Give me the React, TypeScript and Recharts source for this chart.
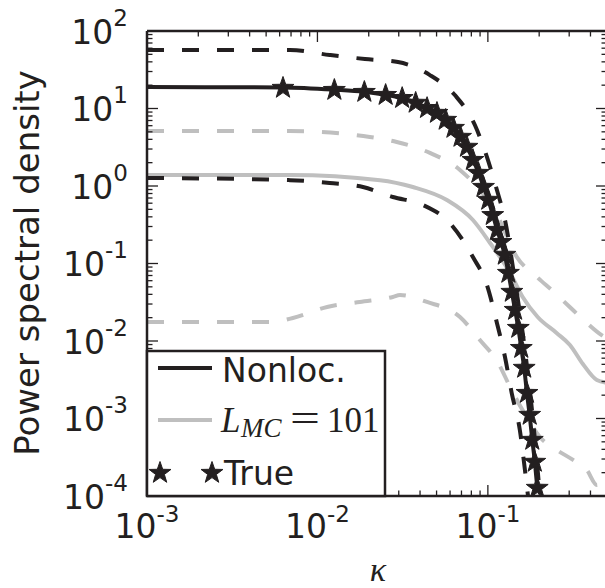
import { LineChart, Line, XAxis, YAxis } from "recharts";

const INK = "#231f20";
const GREY = "#bfbfbf";
const SANS = "'DejaVu Sans', sans-serif";
const SERIF = "'Liberation Serif', 'DejaVu Serif', serif";

// axis ticks
const xMajorTicks = [0.001, 0.01, 0.1];
const xTickLabels = ["-3", "-2", "-1"];
const xMinorTicks = [
  0.002, 0.003, 0.004, 0.005, 0.006, 0.007, 0.008, 0.009,
  0.02, 0.03, 0.04, 0.05, 0.06, 0.07, 0.08, 0.09,
  0.2, 0.3, 0.4,
];
const yMajorTicks = [1e-4, 1e-3, 1e-2, 1e-1, 1, 10, 100];
const yTickLabels = ["-4", "-3", "-2", "-1", "0", "1", "2"];
const yDecades = [1e-4, 1e-3, 1e-2, 1e-1, 1, 10];
const yMults = [2, 3, 4, 5, 6, 7, 8, 9];
const yMinorTicks = yDecades.flatMap((d) => yMults.map((m) => m * d));

// "True" spectrum (stars)
const kTrue = [
  0.00628, 0.01257, 0.01885, 0.02513, 0.03142, 0.0377, 0.04398, 0.05027,
  0.05655, 0.06283, 0.06912, 0.0754, 0.08168, 0.08796, 0.09425, 0.10053,
  0.10681, 0.1131, 0.11938, 0.12566, 0.13195, 0.13823, 0.14451, 0.1508,
  0.15708, 0.16336, 0.16965, 0.17593, 0.18221, 0.1885, 0.19478,
];
const psdTrue = [
  18.4, 17.3, 16.3, 14.9, 13.6, 11.8, 10.1, 8.74, 7.11, 5.6, 4.29, 3.19,
  2.16, 1.47, 0.97, 0.66, 0.42, 0.27, 0.189, 0.129, 0.0754, 0.0429, 0.0251,
  0.0147, 0.0081, 0.00449, 0.00213, 0.00111, 0.000528, 0.000275, 0.000127,
];

// Nonloc. (black solid)
const kNonloc = [0.001, ...kTrue];
const psdNonloc = [
  18.9, 18.7, 17.5, 16.4, 15.0, 13.6, 11.9, 10.2, 8.8, 7.2, 5.7, 4.35, 3.2,
  2.2, 1.5, 0.99, 0.66, 0.43, 0.275, 0.19, 0.13, 0.076, 0.043, 0.025, 0.0147,
  0.0081, 0.0045, 0.0021, 0.0011, 0.00053, 0.00028, 0.00013,
];

// Nonloc. bounds (black dashed)
const kNonlocHi = [0.001, 0.0069, 0.0118, 0.019, 0.0297, 0.0457, 0.064, 0.0839, 0.0987, 0.113, 0.126, 0.144, 0.165, 0.184, 0.202];
const psdNonlocHi = [56.9, 56.9, 49.0, 43.5, 39.8, 27.0, 14.9, 6.12, 2.37, 0.887, 0.364, 0.0612, 0.00766, 0.000957, 0.0001];
const kNonlocLo = [0.001, 0.0069, 0.0118, 0.0185, 0.0277, 0.0416, 0.0598, 0.0817, 0.0987, 0.113, 0.126, 0.138, 0.154, 0.165, 0.172];
const psdNonlocLo = [1.27, 1.19, 1.09, 0.971, 0.721, 0.569, 0.333, 0.121, 0.0528, 0.0171, 0.00622, 0.00213, 0.000711, 0.000216, 0.0001];

// L_MC = 101 (grey solid) and bounds (grey dashed)
const kMC = [0.001, 0.0069, 0.0233, 0.0363, 0.0575, 0.0817, 0.103, 0.135, 0.16, 0.196, 0.253, 0.303, 0.361, 0.436, 0.5];
const psdMC = [1.39, 1.39, 1.19, 0.97, 0.659, 0.364, 0.184, 0.0754, 0.037, 0.0204, 0.0127, 0.0089, 0.00505, 0.00314, 0.0029];
const kMCHi = [0.001, 0.0069, 0.0203, 0.0292, 0.0457, 0.0686, 0.113, 0.148, 0.194, 0.244, 0.298, 0.375, 0.465, 0.5];
const psdMCHi = [5.13, 5.13, 4.29, 3.7, 2.67, 1.61, 0.423, 0.121, 0.067, 0.0429, 0.0283, 0.0176, 0.0119, 0.0108];
const kMCLo = [0.001, 0.00526, 0.00718, 0.0114, 0.0177, 0.0277, 0.0305, 0.0439, 0.0686, 0.0898, 0.115, 0.135, 0.169, 0.202, 0.254, 0.316, 0.381, 0.436, 0.5];
const psdMCLo = [0.0176, 0.0176, 0.0198, 0.0275, 0.0319, 0.037, 0.0392, 0.0319, 0.0204, 0.0103, 0.0052, 0.00255, 0.00104, 0.000577, 0.000392, 0.000292, 0.000216, 0.000139, 0.000187];

const pts = (ks: number[], vs: number[]) => ks.map((k, i) => ({ k, v: vs[i] }));

function starPath(cx: number, cy: number, R = 11.5, r = 4.6) {
  let d = "";
  for (let i = 0; i < 10; i++) {
    const rad = i % 2 === 0 ? R : r;
    const a = -Math.PI / 2 + (i * Math.PI) / 5;
    d += (i === 0 ? "M" : "L") + (cx + rad * Math.cos(a)).toFixed(2) + "," + (cy + rad * Math.sin(a)).toFixed(2);
  }
  return d + "Z";
}

function StarDot(p: any) {
  if (p.cx == null || p.cy == null) return <g key={p.index} />;
  return <path key={p.index} d={starPath(p.cx, p.cy)} fill={INK} stroke={INK} strokeWidth={1} />;
}

function LeftTick({ x, y, payload }: any) {
  const i = yMajorTicks.indexOf(payload.value);
  const len = i >= 0 ? 11 : 5.5;
  return (
    <g>
      <line x1={x} x2={x + len} y1={y} y2={y} stroke={INK} strokeWidth={1.3} />
      {i >= 0 && (
        <text x={x - 19} y={y + 12.5} textAnchor="end" fontFamily={SANS} fontSize={33} fill={INK}>
          10<tspan dy={-18} fontSize={23}>{yTickLabels[i]}</tspan>
        </text>
      )}
    </g>
  );
}

function RightTick({ x, y, payload }: any) {
  const len = yMajorTicks.includes(payload.value) ? 11 : 5.5;
  return <line x1={x} x2={x - len} y1={y} y2={y} stroke={INK} strokeWidth={1.3} />;
}

function BottomTick({ x, y, payload }: any) {
  const i = xMajorTicks.indexOf(payload.value);
  const len = i >= 0 ? 11 : 5.5;
  return (
    <g>
      <line x1={x} x2={x} y1={y} y2={y - len} stroke={INK} strokeWidth={1.3} />
      {i >= 0 && (
        <text x={x} y={y + 42} textAnchor="middle" fontFamily={SANS} fontSize={33} fill={INK}>
          10<tspan dy={-16} fontSize={23}>{xTickLabels[i]}</tspan>
        </text>
      )}
    </g>
  );
}

function TopTick({ x, y, payload }: any) {
  const len = xMajorTicks.includes(payload.value) ? 11 : 5.5;
  return <line x1={x} x2={x} y1={y} y2={y + len} stroke={INK} strokeWidth={1.3} />;
}

const spine = { stroke: INK, strokeWidth: 2.5 };
const xTicks = [...xMajorTicks, ...xMinorTicks];
const yTicks = [...yMajorTicks, ...yMinorTicks];

export default function App() {
  return (
    <div style={{ position: "absolute", left: 0, top: 0, width: 605, height: 588, overflow: "hidden", background: "#fff" }}>
      <LineChart width={615} height={588} margin={{ top: 30, right: 7, bottom: 91, left: 146 }}>
        <XAxis xAxisId="b" dataKey="k" type="number" scale="log" domain={[0.001, 0.5]} allowDataOverflow
          ticks={xTicks} interval={0} height={1} tickSize={0} tickMargin={0} tickLine={false}
          axisLine={spine} tick={<BottomTick />} />
        <XAxis xAxisId="t" orientation="top" dataKey="k" type="number" scale="log" domain={[0.001, 0.5]} allowDataOverflow
          ticks={xTicks} interval={0} height={1} tickSize={0} tickMargin={0} tickLine={false}
          axisLine={spine} tick={<TopTick />} />
        <YAxis yAxisId="l" type="number" scale="log" domain={[1e-4, 100]} allowDataOverflow
          ticks={yTicks} interval={0} width={1} tickSize={0} tickMargin={0} tickLine={false}
          axisLine={spine} tick={<LeftTick />} />
        <YAxis yAxisId="r" orientation="right" type="number" scale="log" domain={[1e-4, 100]} allowDataOverflow
          ticks={yTicks} interval={0} width={1} tickSize={0} tickMargin={0} tickLine={false}
          axisLine={spine} tick={<RightTick />} />

        <Line xAxisId="b" yAxisId="l" data={pts(kMCLo, psdMCLo)} dataKey="v" type="monotone"
          stroke={GREY} strokeWidth={4} strokeDasharray="17 18" dot={false} isAnimationActive={false} />
        <Line xAxisId="b" yAxisId="l" data={pts(kMCHi, psdMCHi)} dataKey="v" type="monotone"
          stroke={GREY} strokeWidth={4} strokeDasharray="17 18" dot={false} isAnimationActive={false} />
        <Line xAxisId="b" yAxisId="l" data={pts(kMC, psdMC)} dataKey="v" type="monotone"
          stroke={GREY} strokeWidth={4} dot={false} isAnimationActive={false} />
        <Line xAxisId="b" yAxisId="l" data={pts(kNonlocLo, psdNonlocLo)} dataKey="v" type="monotone"
          stroke={INK} strokeWidth={4} strokeDasharray="17 18" dot={false} isAnimationActive={false} />
        <Line xAxisId="b" yAxisId="l" data={pts(kNonlocHi, psdNonlocHi)} dataKey="v" type="monotone"
          stroke={INK} strokeWidth={4} strokeDasharray="17 18" dot={false} isAnimationActive={false} />
        <Line xAxisId="b" yAxisId="l" data={pts(kNonloc, psdNonloc)} dataKey="v" type="monotone"
          stroke={INK} strokeWidth={4} dot={false} isAnimationActive={false} />
        <Line xAxisId="b" yAxisId="l" data={pts(kTrue, psdTrue)} dataKey="v" type="monotone"
          stroke="none" dot={StarDot} isAnimationActive={false} />
      </LineChart>

      <svg width={605} height={588} style={{ position: "absolute", left: 0, top: 0 }}>
        <text transform="translate(39,263) rotate(-90)" textAnchor="middle" fontFamily={SANS} fontSize={34} fill={INK}>
          Power spectral density
        </text>
        <text x={378} y={581} textAnchor="middle" fontFamily={SERIF} fontStyle="italic" fontSize={34} fill={INK}>
          κ
        </text>

        <rect x={147} y={351} width={238} height={145} fill="#fff" stroke={INK} strokeWidth={2.5} />
        <line x1={158} x2={212} y1={368} y2={368} stroke={INK} strokeWidth={4} />
        <text x={222} y={382} fontFamily={SANS} fontSize={33} fill={INK}>Nonloc.</text>
        <line x1={158} x2={212} y1={420} y2={420} stroke={GREY} strokeWidth={4} />
        <text y={432} fontFamily={SERIF} fontSize={35} fill={INK}>
          <tspan x={221} fontStyle="italic">L</tspan>
          <tspan x={241} y={437} fontSize={27} fontStyle="italic">MC</tspan>
          <tspan x={290} y={431} fontSize={38} textLength={30} lengthAdjust="spacingAndGlyphs">=</tspan>
          <tspan x={327} y={432}>101</tspan>
        </text>
        <path d={starPath(160, 473)} fill={INK} stroke={INK} strokeWidth={1} />
        <path d={starPath(212, 473)} fill={INK} stroke={INK} strokeWidth={1} />
        <text x={224} y={485} fontFamily={SANS} fontSize={33} fill={INK}>True</text>
      </svg>
    </div>
  );
}
